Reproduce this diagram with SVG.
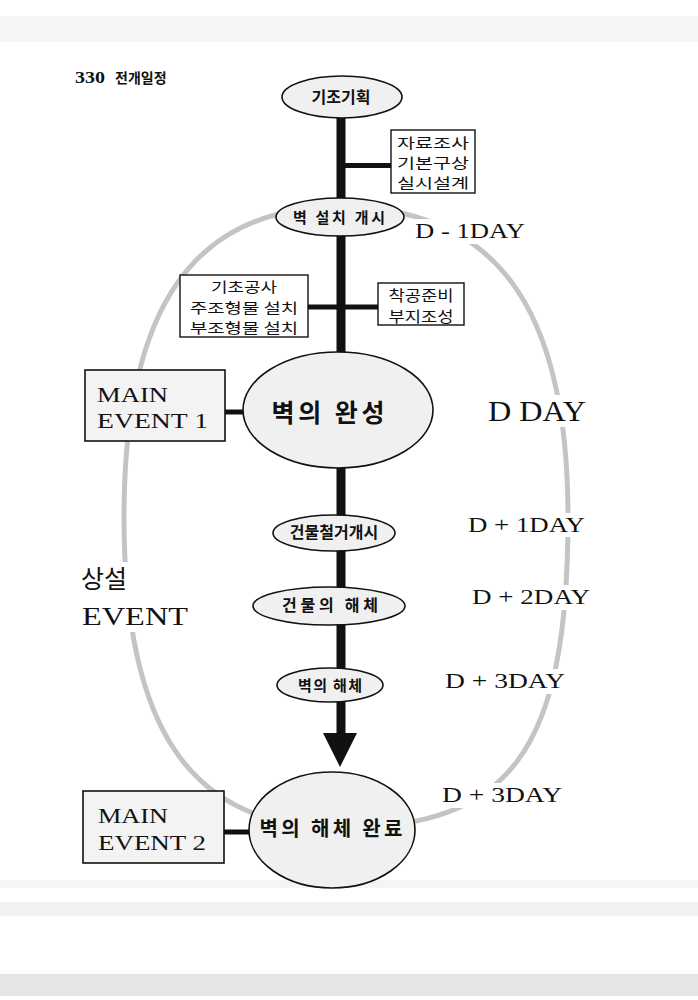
<svg xmlns="http://www.w3.org/2000/svg" width="698" height="1000" viewBox="0 0 698 1000">
<style>
.loop{fill:none;stroke:#c4c4c4;stroke-width:5}
.node{fill:#f0f0f0;stroke:#111;stroke-width:1.6}
.box{fill:#fff;stroke:#111;stroke-width:1.4}
.mbox{fill:#f3f3f3;stroke:#111;stroke-width:1.6}
.kb{font-family:"Noto Sans CJK KR",sans-serif;font-weight:700;text-anchor:middle;fill:#111}
.kr{font-family:"Noto Sans CJK KR",sans-serif;font-weight:400;text-anchor:middle;fill:#111}
.lat{font-family:"Liberation Serif",serif;fill:#111}
.bar{stroke:#111;stroke-width:5;fill:none}
.mask{fill:#fff}
</style>

<g id="scan-noise">
<rect x="0" y="16" width="698" height="26" fill="#000" opacity="0.035"/>
<rect x="0" y="880" width="698" height="8" fill="#000" opacity="0.04"/>
<rect x="0" y="902" width="698" height="14" fill="#000" opacity="0.05"/>
<rect x="0" y="974" width="698" height="22" fill="#000" opacity="0.1"/>
</g>

<g id="header">
<text x="75" y="83" class="lat" font-size="16" font-weight="700" textLength="30" lengthAdjust="spacingAndGlyphs">330</text>
<text x="115" y="83" font-family="'Noto Sans CJK KR',sans-serif" font-weight="700" font-size="14" fill="#111">전개일정</text>
</g>

<g id="permanent-event-loop">
<path class="loop" d="M340,207 C495,207 568,306 568,517 C568,750 511,828 340,828 C190,828 124,728 124,517 C124,306 194.5,207 340,207 Z"/>
</g>

<g id="labels">
<rect class="mask" x="411" y="219" width="118" height="25"/>
<text class="lat" x="415" y="238" font-size="22" textLength="110" lengthAdjust="spacingAndGlyphs">D - 1DAY</text>
<rect class="mask" x="484" y="395" width="106" height="32"/>
<text class="lat" x="488" y="421" font-size="30" textLength="98" lengthAdjust="spacingAndGlyphs">D DAY</text>
<rect class="mask" x="464" y="513" width="124" height="24"/>
<text class="lat" x="468" y="532" font-size="20" textLength="117" lengthAdjust="spacingAndGlyphs">D + 1DAY</text>
<rect class="mask" x="468" y="585" width="126" height="25"/>
<text class="lat" x="472" y="604" font-size="20" textLength="118" lengthAdjust="spacingAndGlyphs">D + 2DAY</text>
<rect class="mask" x="441" y="669" width="128" height="25"/>
<text class="lat" x="445" y="688" font-size="20" textLength="120" lengthAdjust="spacingAndGlyphs">D + 3DAY</text>
<rect class="mask" x="438" y="783" width="128" height="25"/>
<text class="lat" x="442" y="802" font-size="20" textLength="120" lengthAdjust="spacingAndGlyphs">D + 3DAY</text>
<rect class="mask" x="76" y="562" width="118" height="70"/>
<text x="81" y="588" font-family="'Noto Sans CJK KR',sans-serif" font-size="25" fill="#111">상설</text>
<text class="lat" x="82" y="625" font-size="26" textLength="106" lengthAdjust="spacingAndGlyphs">EVENT</text>
</g>

<g id="connectors">
<line x1="341" y1="110" x2="341" y2="736" stroke="#111" stroke-width="9"/>
<polygon points="323,733 357,733 340,767" fill="#111"/>
<line class="bar" x1="345" y1="165.5" x2="391" y2="165.5"/>
<line class="bar" x1="308" y1="307" x2="378" y2="307"/>
<line class="bar" x1="225" y1="412" x2="246" y2="412" stroke-width="6"/>
<line class="bar" x1="224" y1="832" x2="252" y2="832" stroke-width="6"/>
</g>

<g id="node-planning">
<ellipse class="node" cx="342" cy="97" rx="60" ry="21"/>
<text class="kb" x="341" y="103" font-size="16">기조기획</text>
</g>

<g id="node-research">
<rect class="box" x="391" y="130" width="84" height="63"/>
<text class="kr" x="433" y="148" font-size="14" textLength="72" lengthAdjust="spacingAndGlyphs">자료조사</text>
<text class="kr" x="433" y="168" font-size="14" textLength="72" lengthAdjust="spacingAndGlyphs">기본구상</text>
<text class="kr" x="433" y="188" font-size="14" textLength="72" lengthAdjust="spacingAndGlyphs">실시설계</text>
</g>

<g id="node-wall-start">
<ellipse class="node" cx="340" cy="217" rx="64" ry="19"/>
<text class="kb" x="339" y="223" font-size="15" textLength="92" lengthAdjust="spacing">벽 설치 개시</text>
</g>

<g id="node-foundation">
<rect class="box" x="180" y="275" width="128" height="62"/>
<text class="kr" x="244" y="292" font-size="14" textLength="66" lengthAdjust="spacingAndGlyphs">기초공사</text>
<text class="kr" x="244" y="313" font-size="14" textLength="108" lengthAdjust="spacingAndGlyphs">주조형물 설치</text>
<text class="kr" x="244" y="333" font-size="14" textLength="108" lengthAdjust="spacingAndGlyphs">부조형물 설치</text>
</g>

<g id="node-prep">
<rect class="box" x="378" y="283" width="86" height="42"/>
<text class="kr" x="421" y="301" font-size="15" textLength="65" lengthAdjust="spacingAndGlyphs">착공준비</text>
<text class="kr" x="421" y="322" font-size="15" textLength="65" lengthAdjust="spacingAndGlyphs">부지조성</text>
</g>

<g id="node-wall-complete">
<ellipse class="node" cx="338" cy="410" rx="95" ry="58"/>
<text class="kb" x="328" y="422" font-size="25" textLength="113" lengthAdjust="spacing">벽의 완성</text>
</g>

<g id="node-main-event-1">
<rect class="mbox" x="85" y="370" width="140" height="71"/>
<text class="lat" x="97" y="402" font-size="20" textLength="71" lengthAdjust="spacingAndGlyphs">MAIN</text>
<text class="lat" x="97" y="428" font-size="20" textLength="111" lengthAdjust="spacingAndGlyphs">EVENT 1</text>
</g>

<g id="node-building-start">
<ellipse class="node" cx="334" cy="533" rx="61" ry="18"/>
<text class="kb" x="334" y="538" font-size="16">건물철거개시</text>
</g>

<g id="node-building-dismantle">
<ellipse class="node" cx="329" cy="606" rx="76" ry="19"/>
<text class="kb" x="330" y="611" font-size="16" textLength="96" lengthAdjust="spacing">건물의 해체</text>
</g>

<g id="node-wall-dismantle">
<ellipse class="node" cx="330" cy="685" rx="53" ry="17"/>
<text class="kb" x="330" y="691" font-size="15" textLength="64" lengthAdjust="spacing">벽의 해체</text>
</g>

<g id="node-wall-removed">
<ellipse class="node" cx="332" cy="830" rx="83" ry="58"/>
<text class="kb" x="331" y="836" font-size="20" textLength="143" lengthAdjust="spacing">벽의 해체 완료</text>
</g>

<g id="node-main-event-2">
<rect class="mbox" x="83" y="791" width="141" height="72"/>
<text class="lat" x="98" y="823" font-size="20" textLength="70" lengthAdjust="spacingAndGlyphs">MAIN</text>
<text class="lat" x="98" y="850" font-size="20" textLength="108" lengthAdjust="spacingAndGlyphs">EVENT 2</text>
</g>
</svg>
